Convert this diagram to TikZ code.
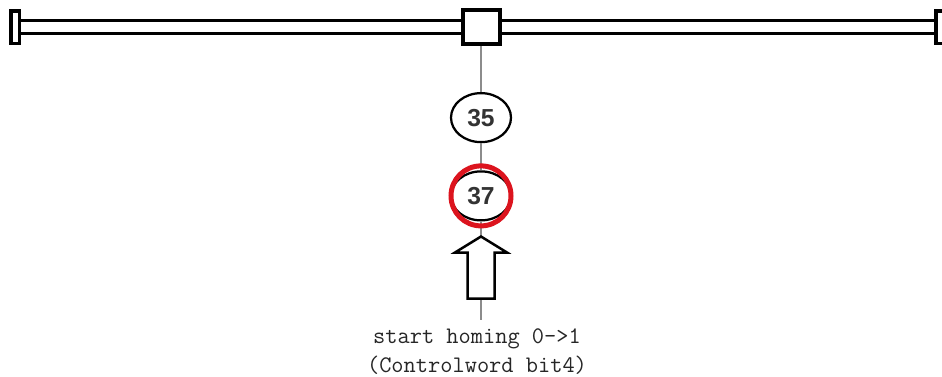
\documentclass[tikz,border=0pt]{standalone}
\usepackage{fontspec}
\newfontfamily\numfont{Liberation Sans}
\usepackage{tikz}
\usetikzlibrary{
	arrows.meta,
	positioning,
	shapes.geometric,
	backgrounds
}
\definecolor{ringred}{RGB}{220,20,30}

\begin{document}
\begin{tikzpicture}[
			rail/.style={draw=black, double=white, double distance=0.19cm, line width=0.06cm},
			endcap/.style={draw, fill=white, line width=0.07cm, minimum width=0.17cm, minimum height=0.65cm, inner sep=0},
			joint/.style={draw, fill=white, line width=0.08cm, minimum width=0.74cm, minimum height=0.68cm, inner sep=0},
			methodnode/.style={ellipse, draw, fill=white, line width=0.045cm, minimum width=1.2cm, minimum height=0.98cm, inner sep=0, font=\numfont\bfseries\fontsize{14}{16}\selectfont, text=black!80},
			ring/.style={circle, draw=ringred, line width=0.1cm, minimum size=1.2cm, inner sep=0},
			stem/.style={draw=black!45, line width=0.04cm},
			bigarrow/.style={draw, fill=white, line width=0.05cm, line join=miter},
			cmdtext/.style={font=\ttfamily\fontsize{13.5}{16.3}\selectfont, align=center, inner sep=0.18cm, text=black!85}
		]
		\useasboundingbox (0,0) rectangle (18.84,-7.52);

		\node[joint] (sq) at (9.62,-0.54) {};
		\node[endcap] (capl) at (0.30,-0.54) {};
		\node[endcap] (capr) at (18.80,-0.54) {};
		\node[methodnode, below=0.92cm of sq] (c35) {35};
		\node[methodnode, below=0.54cm of c35] (c37) {37};
		\coordinate[below=0.30cm of c37] (tip);
		\coordinate[below=1.24cm of tip] (tail);
		\node[cmdtext, below=0.42cm of tail, xshift=-0.08cm] (cmd) {start homing 0->1\\(Controlword bit4)};

		\begin{scope}[on background layer]
			\draw[rail] (capl.east) -- (sq.west);
			\draw[rail] (sq.east) -- (capr.west);
		\end{scope}

		\draw[stem] (sq) -- (c35);
		\draw[stem] (c35) -- (c37);
		\draw[stem] (c37) -- (tip);
		\draw[stem] (tail) -- (tail |- cmd.north);
		\draw[bigarrow] (tip) -- ++(-0.52,-0.32) -- ++(0.25,0) -- ++(0,-0.92) -- ++(0.54,0) -- ++(0,0.92) -- ++(0.25,0) -- cycle;
		\node[ring] (ring37) at (c37) {};
	\end{tikzpicture}
\end{document}
